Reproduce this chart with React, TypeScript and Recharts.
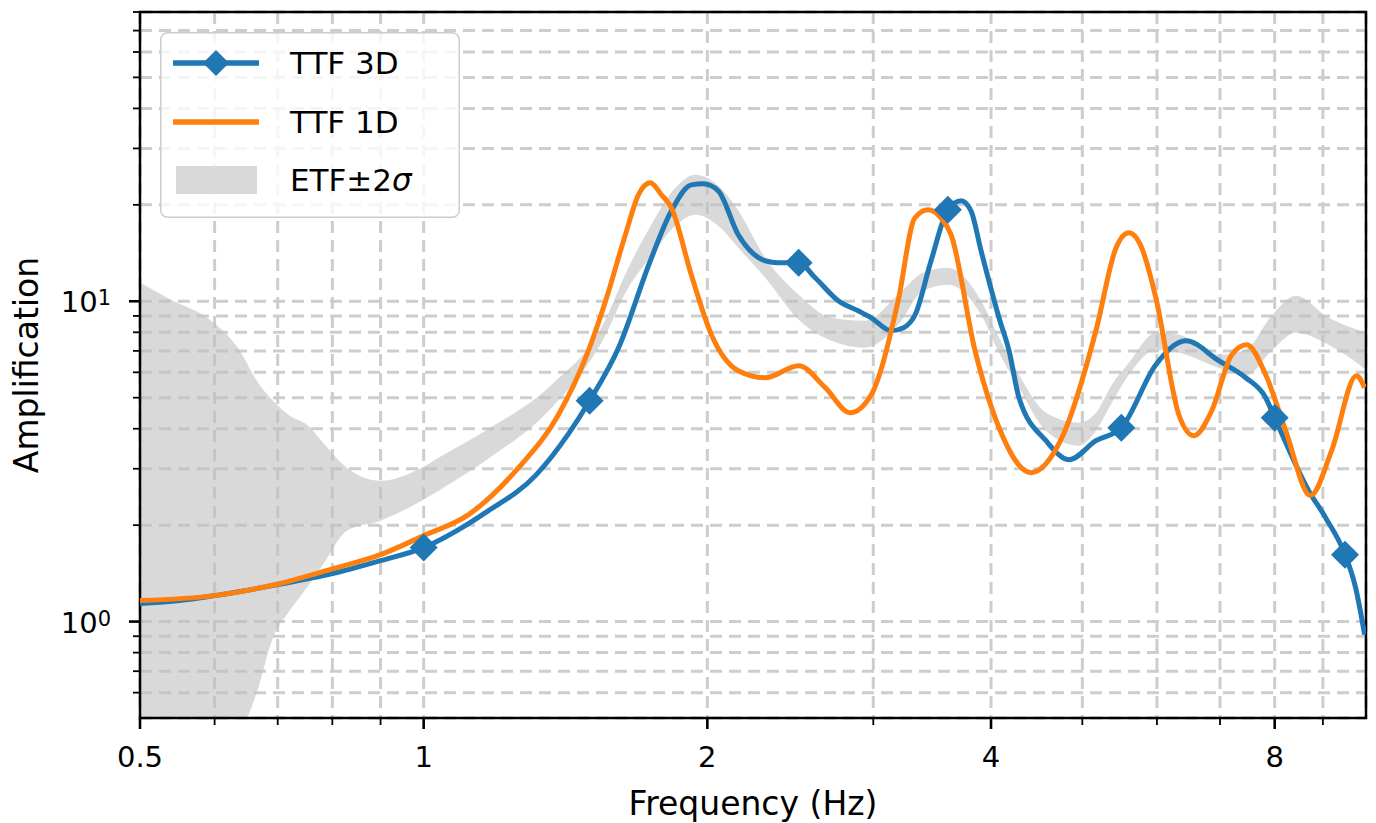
import React from "react";
import {
  ComposedChart,
  Line,
  Area,
  XAxis,
  YAxis,
  CartesianGrid,
  Legend,
  ReferenceArea,
  Label,
} from "recharts";

// axis ticks (majors get labels, the rest are minor ticks + grid)
const X_TICKS = [0.5, 0.6, 0.7, 0.8, 0.9, 1, 2, 3, 4, 5, 6, 7, 8, 9];
const X_MAJOR = [0.5, 1, 2, 4, 8];
const Y_TICKS = [0.6, 0.7, 0.8, 0.9, 1, 2, 3, 4, 5, 6, 7, 8, 9, 10, 20, 30, 40, 50, 60, 70, 80];
const Y_MAJOR = [1, 10];

// TTF 3D
const FREQ_3D = [
  0.5, 0.551, 0.6, 0.7, 0.8, 0.9, 1.0, 1.116, 1.163, 1.314, 1.425, 1.5, 1.61, 1.74, 1.832,
  1.923, 1.98, 2.054, 2.157, 2.304, 2.378, 2.5, 2.603, 2.754, 2.891, 2.985, 3.134, 3.23,
  3.323, 3.455, 3.6, 3.718, 3.809, 3.904, 4.079, 4.18, 4.283, 4.575, 4.839, 5.169, 5.5,
  5.984, 6.438, 6.978, 7.453, 7.826, 8.0, 8.692, 9.06, 9.5, 9.749, 9.966,
];
const AMP_3D = [
  1.138, 1.163, 1.205, 1.304, 1.412, 1.55, 1.702, 2.022, 2.188, 2.855, 3.861, 4.891, 7.161,
  13.38, 19.16, 23.09, 23.26, 22.12, 16.13, 13.38, 13.19, 13.19, 11.84, 10.04, 9.341, 8.88,
  8.091, 8.27, 9.076, 13.38, 19.3, 20.59, 19.16, 14.38, 8.88, 7.009, 5.0, 3.67, 3.202, 3.67,
  4.03, 6.338, 7.53, 6.523, 5.772, 5.0, 4.33, 2.563, 2.111, 1.618, 1.277, 0.911,
];
const MARKER_FREQ = [1.0, 1.5, 2.5, 3.6, 5.5, 8.0, 9.5];

// TTF 1D
const FREQ_1D = [
  0.5, 0.6, 0.7, 0.8, 0.9, 1.0, 1.116, 1.261, 1.39, 1.49, 1.56, 1.637, 1.69, 1.74, 1.788,
  1.832, 1.923, 2.02, 2.157, 2.304, 2.5, 2.668, 2.835, 2.985, 3.188, 3.32, 3.43, 3.54, 3.628,
  3.847, 4.079, 4.41, 4.757, 5.169, 5.43, 5.602, 5.78, 5.984, 6.33, 6.565, 6.86, 7.203, 7.47,
  7.826, 8.218, 8.73, 9.194, 9.77, 9.966,
];
const AMP_1D = [
  1.163, 1.205, 1.31, 1.46, 1.618, 1.855, 2.158, 3.023, 4.424, 6.81, 10.04, 16.13, 21.5,
  23.43, 21.5, 19.58, 12.1, 7.862, 6.071, 5.772, 6.293, 5.372, 4.488, 5.109, 10.04, 18.2,
  19.3, 18.2, 16.13, 7.009, 4.03, 2.917, 3.751, 8.091, 14.7, 16.36, 14.7, 10.25, 4.424, 3.805,
  4.553, 6.81, 7.317, 5.897, 3.944, 2.473, 3.416, 5.855, 5.372,
];

// ETF +/- 2 sigma band
const FREQ_ETF = [
  0.5, 0.542, 0.589, 0.638, 0.665, 0.692, 0.721, 0.752, 0.782, 0.829, 0.9, 0.995, 1.037,
  1.163, 1.367, 1.544, 1.649, 1.744, 1.85, 1.942, 2.054, 2.157, 2.304, 2.5, 2.707, 2.941,
  3.188, 3.388, 3.601, 3.904, 4.079, 4.283, 4.575, 4.958, 5.169, 5.374, 5.602, 5.984, 6.33,
  6.978, 7.453, 7.941, 8.421, 9.127, 10,
];
const ETF_HIGH = [
  11.42, 10.04, 8.88, 7.009, 5.649, 4.891, 4.393, 4.118, 3.618, 3.023, 2.754, 3.023, 3.249,
  3.944, 5.49, 8.267, 12.72, 17.33, 22.6, 24.81, 22.93, 19.16, 13.67, 10.48, 8.88, 8.694,
  10.48, 12.27, 12.72, 10.04, 7.693, 5.897, 4.488, 4.177, 4.488, 5.49, 6.43, 7.976, 7.862,
  6.81, 7.061, 9.01, 10.4, 8.88, 7.976,
];
const ETF_LOW = [
  0.282, 0.315, 0.376, 0.45, 0.6, 0.891, 1.082, 1.277, 1.506, 1.922, 2.066, 2.385, 2.563,
  3.179, 4.652, 7.423, 11.02, 13.87, 17.2, 18.62, 17.2, 14.69, 11.84, 8.756, 7.53, 7.161,
  8.44, 10.78, 11.26, 9.076, 6.907, 5.372, 3.944, 3.541, 3.944, 4.824, 5.897, 7.061, 6.907,
  6.203, 5.855, 7.009, 7.976, 7.317, 6.113,
];

const BLUE = "#1f77b4";
const ORANGE = "#ff7f0e";
const FONT = "DejaVu Sans, Verdana, sans-serif";
const LW = 5;

const data3D = FREQ_3D.map((f, i) => ({ f, amp: AMP_3D[i] }));
const data1D = FREQ_1D.map((f, i) => ({ f, amp: AMP_1D[i] }));
const dataETF = FREQ_ETF.map((f, i) => ({ f, band: [ETF_LOW[i], ETF_HIGH[i]] }));

const diamond = (cx: number, cy: number, h: number) =>
  `M${cx},${cy - h}L${cx + h},${cy}L${cx},${cy + h}L${cx - h},${cy}Z`;

const renderDiamond = (props: any) => {
  const { cx, cy, payload, index } = props;
  if (!MARKER_FREQ.includes(payload.f)) return <g key={`d-${index}`} />;
  return <path key={`d-${index}`} d={diamond(cx, cy, 14)} fill={BLUE} />;
};

const gridLine = (props: any) => {
  const { x1, y1, x2, y2, index } = props;
  return (
    <line
      key={`g-${x1}-${y1}-${index}`}
      x1={x1}
      y1={y1}
      x2={x2}
      y2={y2}
      stroke="#cdcdcd"
      strokeWidth={3}
      strokeDasharray="12 7"
      fill="none"
    />
  );
};

const XTick = (props: any) => {
  const { x, y, payload } = props;
  const major = X_MAJOR.includes(payload.value);
  return (
    <g>
      <line
        x1={x}
        x2={x}
        y1={y}
        y2={y + (major ? 11 : 7)}
        stroke="#000"
        strokeWidth={major ? 2.6 : 1.8}
      />
      {major && (
        <text x={x} y={y + 49} textAnchor="middle" fontSize={29} fontFamily={FONT} fill="#000">
          {payload.value}
        </text>
      )}
    </g>
  );
};

const YTick = (props: any) => {
  const { x, y, payload } = props;
  const v = payload.value;
  const major = Y_MAJOR.includes(v);
  return (
    <g>
      <line
        x1={x - (major ? 11 : 7)}
        x2={x}
        y1={y}
        y2={y}
        stroke="#000"
        strokeWidth={major ? 2.6 : 1.8}
      />
      {major && (
        <text x={x - 29} y={y + 11} textAnchor="end" fontSize={29} fontFamily={FONT} fill="#000">
          10
          <tspan dy={-7} fontSize={21}>
            {v === 1 ? "0" : "1"}
          </tspan>
        </text>
      )}
    </g>
  );
};

const XLabel = (props: any) => {
  const { viewBox } = props;
  return (
    <text
      x={viewBox.x + viewBox.width / 2}
      y={viewBox.y + 97}
      textAnchor="middle"
      fontSize={33}
      fontFamily={FONT}
      fill="#000"
    >
      Frequency (Hz)
    </text>
  );
};

const YLabel = (props: any) => {
  const { viewBox } = props;
  const x = viewBox.x + viewBox.width - 102;
  const y = viewBox.y + viewBox.height / 2;
  return (
    <text
      x={x}
      y={y}
      transform={`rotate(-90, ${x}, ${y})`}
      textAnchor="middle"
      fontSize={33}
      fontFamily={FONT}
      fill="#000"
    >
      Amplification
    </text>
  );
};

const LegendBox = () => (
  <svg width={300} height={186} style={{ display: "block" }}>
    <rect
      x={0.75}
      y={0.75}
      width={298.5}
      height={184.5}
      rx={7}
      fill="#fff"
      fillOpacity={0.8}
      stroke="#cccccc"
      strokeWidth={1.5}
    />
    <line x1={13} x2={99} y1={31} y2={31} stroke={BLUE} strokeWidth={LW + 0.5} />
    <path d={diamond(56, 31, 13)} fill={BLUE} />
    <text x={130} y={42} fontSize={31} fontFamily={FONT} fill="#000">
      TTF 3D
    </text>
    <line x1={13} x2={99} y1={90} y2={90} stroke={ORANGE} strokeWidth={LW + 0.5} />
    <text x={130} y={101} fontSize={31} fontFamily={FONT} fill="#000">
      TTF 1D
    </text>
    <rect x={16} y={134} width={81} height={28} fill="#d9d9d9" />
    <text x={130} y={159} fontSize={31} fontFamily={FONT} fill="#000">
      ETF±2<tspan fontStyle="italic">σ</tspan>
    </text>
  </svg>
);

export default function App() {
  return (
    <div style={{ position: "absolute", left: 0, top: 0, background: "#fff" }}>
      <ComposedChart
        width={1376}
        height={823}
        margin={{ top: 12, right: 10, bottom: 45, left: 40 }}
      >
        <CartesianGrid horizontal={gridLine} vertical={gridLine} />
        <XAxis
          dataKey="f"
          type="number"
          scale="log"
          domain={[0.5, 10]}
          ticks={X_TICKS}
          interval={0}
          allowDataOverflow
          axisLine={false}
          tickLine={false}
          tickSize={0}
          tickMargin={0}
          height={60}
          tick={<XTick />}
        >
          <Label content={<XLabel />} />
        </XAxis>
        <YAxis
          type="number"
          scale="log"
          domain={[0.5, 80]}
          ticks={Y_TICKS}
          interval={0}
          allowDataOverflow
          axisLine={false}
          tickLine={false}
          tickSize={0}
          tickMargin={0}
          width={100}
          tick={<YTick />}
        >
          <Label content={<YLabel />} />
        </YAxis>
        <Area
          data={dataETF}
          dataKey="band"
          type="monotone"
          stroke="none"
          fill="#bfbfbf"
          fillOpacity={0.6}
          isAnimationActive={false}
        />
        <Line
          data={data3D}
          dataKey="amp"
          type="monotone"
          stroke={BLUE}
          strokeWidth={LW}
          dot={renderDiamond}
          activeDot={false}
          isAnimationActive={false}
        />
        <Line
          data={data1D}
          dataKey="amp"
          type="monotone"
          stroke={ORANGE}
          strokeWidth={LW}
          dot={false}
          activeDot={false}
          isAnimationActive={false}
        />
        <ReferenceArea
          x1={0.5}
          x2={10}
          y1={0.5}
          y2={80}
          fill="none"
          stroke="#000"
          strokeWidth={2.5}
          ifOverflow="visible"
        />
        <Legend
          layout="vertical"
          align="center"
          verticalAlign="middle"
          wrapperStyle={{ left: 160, top: 32, width: 300, height: 186 }}
          content={<LegendBox />}
        />
      </ComposedChart>
    </div>
  );
}
